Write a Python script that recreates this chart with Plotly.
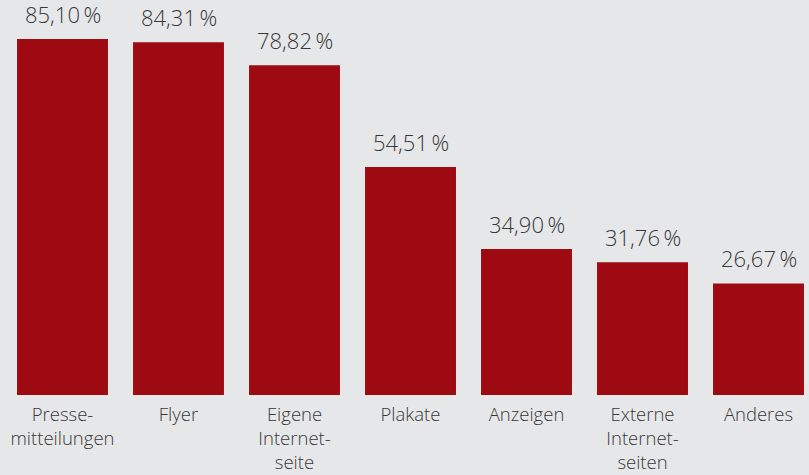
import plotly.graph_objects as go

BG = "#e6e7e9"
BAR = "#9d0a11"
TEXT = "#383838"

categories = [
    "Presse-<br>mitteilungen",
    "Flyer",
    "Eigene<br>Internet-<br>seite",
    "Plakate",
    "Anzeigen",
    "Externe<br>Internet-<br>seiten",
    "Anderes",
]
values = [85.10, 84.31, 78.82, 54.51, 34.90, 31.76, 26.67]
value_labels = ["85,10\u2009%", "84,31\u2009%", "78,82\u2009%", "54,51\u2009%",
                "34,90\u2009%", "31,76\u2009%", "26,67\u2009%"]

x = list(range(len(categories)))

fig = go.Figure(
    go.Bar(
        x=x,
        y=values,
        width=0.784,
        marker={"color": BAR, "line": {"width": 0}},
        hoverinfo="skip",
    )
)

for xi, v, label in zip(x, values, value_labels):
    fig.add_annotation(
        x=xi, y=v, text=label, showarrow=False,
        yanchor="bottom", yshift=8,
        font={"size": 22, "color": TEXT, "family": "Open Sans", "weight": 300},
    )

fig.update_layout(
    width=809,
    height=475,
    paper_bgcolor=BG,
    plot_bgcolor=BG,
    margin={"l": 0, "r": 0, "t": 0, "b": 80},
    font={"family": "Open Sans, sans-serif", "color": TEXT},
    showlegend=False,
)
fig.update_xaxes(
    tickmode="array", tickvals=x, ticktext=categories,
    range=[-0.5388, 6.4353],
    showgrid=False, zeroline=False, showline=False,
    tickfont={"size": 18.5, "color": TEXT, "weight": 300},
    ticks="", ticklabelstandoff=6,
)
fig.update_yaxes(
    range=[0, 94.43], visible=False, showgrid=False, zeroline=False,
)

fig.write_html(
    "out.html",
    config={"displayModeBar": False},
    post_script="document.body.style.margin='0';",
)
